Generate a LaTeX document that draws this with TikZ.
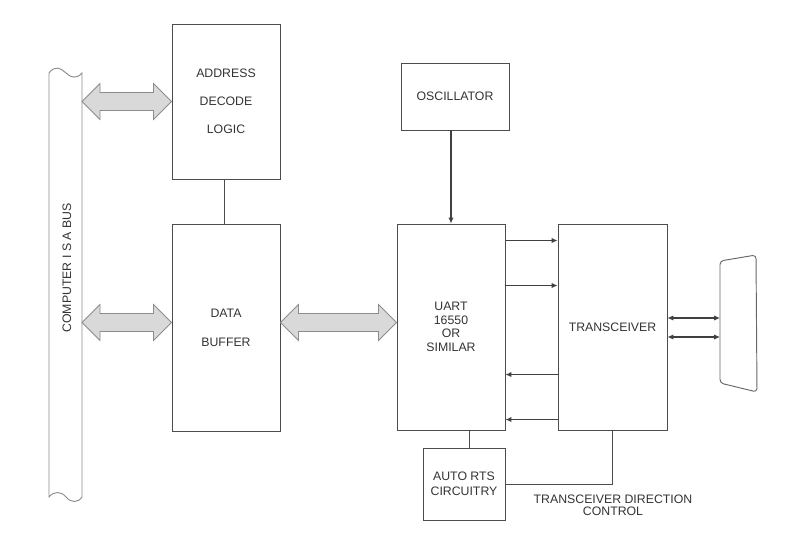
\documentclass[tikz,border=0pt]{standalone}
\usepackage{fontspec}
\setmainfont{Liberation Sans}
\usetikzlibrary{calc,arrows.meta}

\tikzset{
  blk/.style={draw=black!70, line width=0.8pt, minimum width=3.24cm, text=black!80, align=center, inner sep=0pt},
  sig/.style={draw=black!75, line width=0.9pt, -{Latex[length=5pt,width=4.5pt]}},
  dsig/.style={draw=black!75, line width=0.9pt, {Latex[length=5pt,width=4.5pt]}-{Latex[length=5pt,width=4.5pt]}},
  fat/.style={draw=black!45, fill=black!15, line width=0.7pt},
  wire/.style={draw=black!70, line width=0.8pt}
}

\begin{document}
\begin{tikzpicture}[x=0.03cm,y=-0.03cm,font=\fontsize{10.5}{12.5}\selectfont]
\useasboundingbox (0,0) rectangle (800,534);
%\draw[help lines] (0,0) grid[step=50] (800,534);

% bus
\draw[draw=black!45, line width=0.8pt] (49,73) .. controls (55,65) and (61,68) .. (66,73)
   .. controls (71,78) and (77,79) .. (82,73) -- (82,497)
   .. controls (78,503) and (71,503) .. (66,497) .. controls (61,491) and (54,491) .. (49,497) -- cycle;
\coordinate (bus) at (82,0);
\node[rotate=90, text=black!80] (busname) at (67,268) {COMPUTER I S A BUS};

% blocks
\node[blk, minimum height=4.65cm, font=\fontsize{10.5}{0.84cm}\selectfont] (addr) at (226,101.5) {ADDRESS\\DECODE\\LOGIC};
\node[blk, minimum height=6.21cm, font=\fontsize{10.5}{0.87cm}\selectfont] (buf) at (226,327.5) {DATA\\BUFFER};
\node[blk, minimum height=2.01cm] (osc) at (455,96.5) {OSCILLATOR};
\node[blk, minimum height=6.18cm, font=\fontsize{10.5}{0.405cm}\selectfont] (uart) at (451,327) {UART\\16550\\OR\\SIMILAR};
\node[blk, minimum width=3.27cm, minimum height=6.18cm] (xcvr) at (612.5,327) {TRANSCEIVER};
\node[blk, minimum width=2.46cm, minimum height=2.16cm, font=\fontsize{10.5}{0.45cm}\selectfont] (rts) at (464,484) {AUTO RTS\\CIRCUITRY};
\node[text=black!80, align=center, font=\fontsize{10.5}{0.37cm}\selectfont] (dirlabel) at (613,505) {TRANSCEIVER DIRECTION\\CONTROL};

% connector
\draw[draw=black!60, line width=0.8pt, rounded corners=3pt] (720,261) -- (756,255) -- (757,392) -- (720,383) -- cycle;
\coordinate (conn) at (720,327);

% fat arrows
\coordinate (a1) at (bus |- addr.west);
\coordinate (b1) at (addr.west);
\draw[fat] (a1) -- ++(18,-18) -- ++(0,9) -- ($(b1)+(-18,-9)$) -- ++(0,-9) -- (b1) -- ++(-18,18) -- ++(0,-9) -- ($(a1)+(18,9)$) -- ++(0,9) -- cycle;
\coordinate (b2) at ($(buf.west)+(0,-5)$);
\coordinate (a2) at (bus |- b2);
\draw[fat] (a2) -- ++(18,-18) -- ++(0,9) -- ($(b2)+(-18,-9)$) -- ++(0,-9) -- (b2) -- ++(-18,18) -- ++(0,-9) -- ($(a2)+(18,9)$) -- ++(0,9) -- cycle;
\coordinate (a3) at ($(buf.east)+(0,-5)$);
\coordinate (b3) at (uart.west |- a3);
\draw[fat] (a3) -- ++(18,-18) -- ++(0,9) -- ($(b3)+(-18,-9)$) -- ++(0,-9) -- (b3) -- ++(-18,18) -- ++(0,-9) -- ($(a3)+(18,9)$) -- ++(0,9) -- cycle;

% wires
\draw[wire] (addr.south -| 224,0) -- (buf.north -| 224,0);
\draw[sig] (osc.south -| uart.north) -- (uart.north);
\draw[sig] ($(uart.north east)+(0,17)$) -- ($(xcvr.north west)+(0,17)$);
\draw[sig] ($(uart.north east)+(0,62)$) -- ($(xcvr.north west)+(0,62)$);
\draw[sig] ($(xcvr.north west)+(0,151)$) -- ($(uart.north east)+(0,151)$);
\draw[sig] ($(xcvr.north west)+(0,196)$) -- ($(uart.north east)+(0,196)$);
\draw[dsig] ($(xcvr.east)+(0,-9)$) -- ($(conn)+(0,-9)$);
\draw[dsig] ($(xcvr.east)+(0,10)$) -- ($(conn)+(0,10)$);
\draw[wire] ($(uart.south)+(18,0)$) coordinate (u) -- (u |- rts.north);
\draw[wire] (rts.east) -- (rts.east -| xcvr.south) -- (xcvr.south);
\end{tikzpicture}
\end{document}
